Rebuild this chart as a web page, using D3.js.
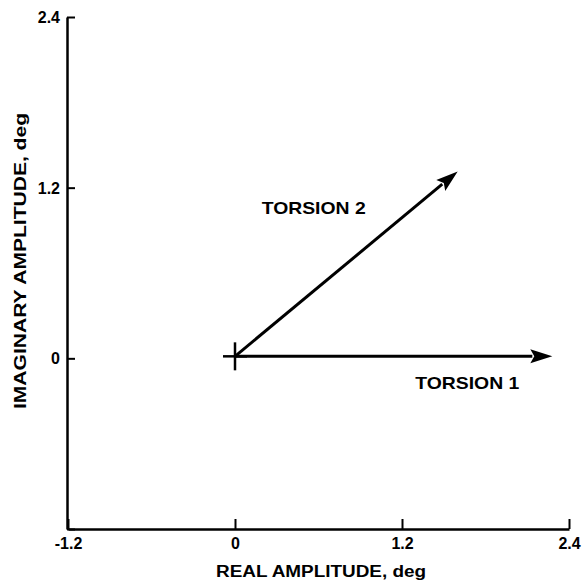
<!DOCTYPE html>
<html><head><meta charset="utf-8">
<script src="https://cdn.jsdelivr.net/npm/d3@7"></script>
<style>
body{margin:0;background:#fff}
svg{display:block;background:#fff}
text{font-family:"Liberation Sans",Arial,Helvetica,sans-serif;font-weight:bold;fill:#000}
</style>
</head><body>
<svg id="c" width="584" height="584"></svg>
<script>
// ---- data ----
const xTicks = [-1.2, 0, 1.2, 2.4];
const xTickLabels = ["-1.2", "0", "1.2", "2.4"];
const yTicks = [-1.2, 0, 1.2, 2.4];
const yTickLabels = ["", "0", "1.2", "2.4"];
const vectorNames = ["TORSION 1", "TORSION 2"];
const vectorReal = [2.28, 1.6];
const vectorImag = [0, 1.3];
const xTitle = "REAL AMPLITUDE, deg";
const yTitle = "IMAGINARY AMPLITUDE, deg";

// ---- layout ----
const svg = d3.select("#c");
const x = d3.scaleLinear().domain([-1.2, 2.4]).range([68, 569]);
const y = d3.scaleLinear().domain([-1.2, 2.4]).range([529, 17]);

const xAxis = d3.axisBottom(x).tickValues(xTicks).tickSizeInner(-10).tickSizeOuter(0)
  .tickPadding(9).tickFormat((d, i) => xTickLabels[i]);
const yAxis = d3.axisLeft(y).tickValues(yTicks).tickSizeInner(-8).tickSizeOuter(0)
  .tickPadding(7).tickFormat((d, i) => yTickLabels[i]);

const gx = svg.append("g").attr("transform", `translate(0,${y(-1.2)})`).call(xAxis);
const gy = svg.append("g").attr("transform", `translate(${x(-1.2) - 1},0)`).call(yAxis);
[gx, gy].forEach(g => {
  g.select(".domain").attr("stroke", "#000").attr("stroke-width", 2.5);
  g.selectAll(".tick line").attr("stroke", "#000").attr("stroke-width", 2);
  g.selectAll(".tick text")
    .style("font-size", "16px")
    .style("font-weight", "bold")
    .style("font-family", '"Liberation Sans",Arial,sans-serif')
    .style("fill", "#000");
});
gy.selectAll(".tick text").style("text-anchor", "end").attr("x", -7).attr("dy", "0.35em");
gx.selectAll(".tick text").style("text-anchor", "middle").attr("y", 9).attr("dy", "0.71em");

// axis titles
svg.append("text").attr("x", 321).attr("y", 577).attr("text-anchor", "middle")
  .style("font-size", "16px").attr("textLength", 210).attr("lengthAdjust", "spacingAndGlyphs").text(xTitle);
svg.append("text").attr("transform", "translate(26,261) rotate(-90)").attr("text-anchor", "middle")
  .style("font-size", "16px").attr("textLength", 296).attr("lengthAdjust", "spacingAndGlyphs").text(yTitle);

// origin cross
const x0 = x(0), y0 = y(0) - 2;
svg.append("line").attr("x1", x0 - 12).attr("x2", x0 + 12).attr("y1", y0).attr("y2", y0)
  .attr("stroke", "#000").attr("stroke-width", 2.5);
svg.append("line").attr("x1", x0).attr("x2", x0).attr("y1", y0 - 14).attr("y2", y0 + 14)
  .attr("stroke", "#000").attr("stroke-width", 2.5);

// vectors
const labelOffsets = [[-137, 33], [-196, 43]];
vectorNames.forEach((name, i) => {
  const tx = x(vectorReal[i]), ty = y(vectorImag[i]) - 2;
  const dx = tx - x0, dy = ty - y0, len = Math.hypot(dx, dy);
  const ux = dx / len, uy = dy / len;
  const hl = 22, hw = 7;
  const bx = tx - ux * hl, by = ty - uy * hl;
  svg.append("line").attr("x1", x0).attr("y1", y0).attr("x2", bx + ux * 2).attr("y2", by + uy * 2)
    .attr("stroke", "#000").attr("stroke-width", 3);
  svg.append("path").attr("d", d3.line()([
    [tx, ty], [bx - uy * hw, by + ux * hw], [bx + ux * 4, by + uy * 4], [bx + uy * hw, by - ux * hw]
  ]) + "Z").attr("fill", "#000");
  svg.append("text").attr("x", tx + labelOffsets[i][0]).attr("y", ty + labelOffsets[i][1])
    .style("font-size", "17px").attr("textLength", 104).attr("lengthAdjust", "spacingAndGlyphs").text(name);
});
</script>
</body></html>
